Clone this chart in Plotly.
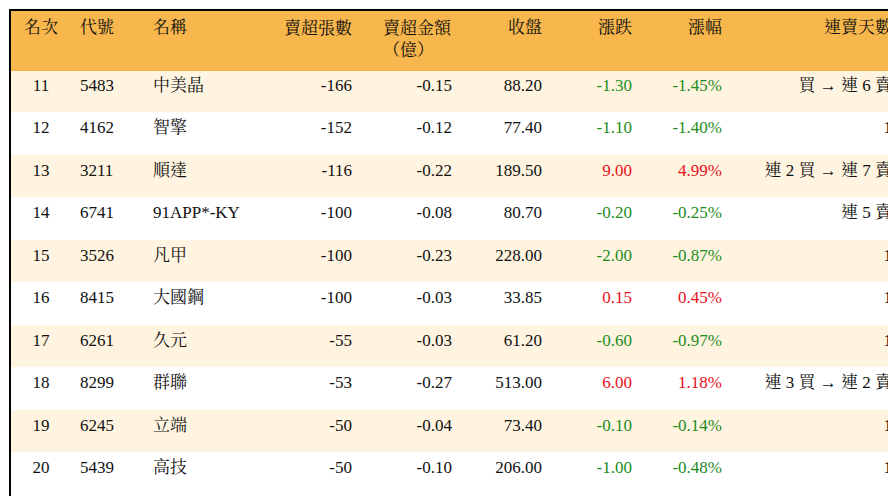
import plotly.graph_objects as go

headers = ["<br>名次", "<br>代號", "<br>名稱", "<br>賣超張數", "賣超金額<br>（億）", "<br>收盤", "<br>漲跌", "<br>漲幅", "<br>連賣天數"]
rank = ["11", "12", "13", "14", "15", "16", "17", "18", "19", "20"]
code = ["5483", "4162", "3211", "6741", "3526", "8415", "6261", "8299", "6245", "5439"]
name = ["中美晶", "智擎", "順達", "91APP*-KY", "凡甲", "大國鋼", "久元", "群聯", "立端", "高技"]
net_lots = [-166, -152, -116, -100, -100, -100, -55, -53, -50, -50]
net_amt = [-0.15, -0.12, -0.22, -0.08, -0.23, -0.03, -0.03, -0.27, -0.04, -0.10]
close = [88.20, 77.40, 189.50, 80.70, 228.00, 33.85, 61.20, 513.00, 73.40, 206.00]
change = [-1.30, -1.10, 9.00, -0.20, -2.00, 0.15, -0.60, 6.00, -0.10, -1.00]
pct = [-1.45, -1.40, 4.99, -0.25, -0.87, 0.45, -0.97, 1.18, -0.14, -0.48]
streak = ["買 → 連 6 賣", "1", "連 2 買 → 連 7 賣", "連 5 賣", "1", "1", "1", "連 3 買 → 連 2 賣", "1", "1"]

GREEN, RED, BLACK = "#1e8c1e", "#e8101a", "#111111"
col_chg = [GREEN if v < 0 else RED for v in change]
fills = ["#FFF4E0" if i % 2 == 0 else "#FFFFFF" for i in range(len(rank))]

values = [
    rank, code, name,
    [str(v) for v in net_lots],
    [f"{v:.2f}" for v in net_amt],
    [f"{v:.2f}" for v in close],
    [f"{v:.2f}" for v in change],
    [f"{v:.2f}%" for v in pct],
    streak,
]
fontcolors = [[BLACK]*10]*6 + [col_chg, col_chg, [BLACK]*10]
aligns = ["center", "left", "left", "right", "right", "right", "right", "right", "right"]

font_family = "Liberation Serif, Noto Serif CJK TC, Noto Sans CJK TC"
fig = go.Figure(go.Table(
    columnwidth=[62, 73, 110, 105, 100, 90, 90, 90, 170],
    header=dict(values=headers, fill_color="#F8B74D", line_color="#F8B74D",
                align=aligns, height=60,
                font=dict(family=font_family, size=17, color=BLACK)),
    cells=dict(values=values, fill_color=[fills]*9, line_color=[fills]*9,
               align=aligns, height=42.5,
               font=dict(family=font_family, size=17, color=fontcolors)),
))
fig.update_layout(width=896, height=496, margin=dict(l=2, r=4, t=2, b=2),
                  paper_bgcolor="white",
                  shapes=[dict(type="rect", xref="paper", yref="paper", x0=0, y0=0, x1=1, y1=1,
                               line=dict(color="black", width=2))])
fig.write_html("out.html")
